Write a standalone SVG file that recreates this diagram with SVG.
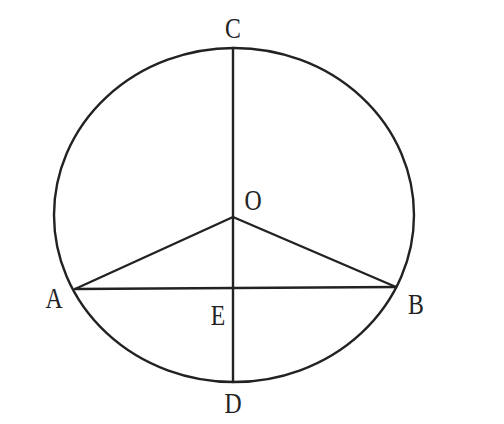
<svg xmlns="http://www.w3.org/2000/svg" width="504" height="424" viewBox="0 0 504 424">
<style>
.ln{stroke:#222;stroke-width:2.4;fill:none;stroke-linecap:round;stroke-linejoin:round}
.lb{font-family:"Liberation Serif","Times New Roman",serif;font-size:29px;fill:#222;text-anchor:middle}
</style>
<rect width="504" height="424" fill="#fff"/>
<g id="circle"><ellipse class="ln" cx="234" cy="215" rx="180" ry="167"/></g>
<g id="connectors">
<line class="ln" x1="233" y1="48" x2="233" y2="382"/>
<line class="ln" x1="75" y1="289" x2="396" y2="287"/>
<line class="ln" x1="75" y1="289" x2="233" y2="217"/>
<line class="ln" x1="233" y1="217" x2="396" y2="287"/>
</g>
<g id="C"><text class="lb" transform="translate(233,38) scale(0.82,1)">C</text></g>
<g id="O"><text class="lb" transform="translate(253,210) scale(0.82,1)">O</text></g>
<g id="A"><text class="lb" transform="translate(54,308) scale(0.82,1)">A</text></g>
<g id="B"><text class="lb" transform="translate(416,314) scale(0.82,1)">B</text></g>
<g id="E"><text class="lb" transform="translate(218,325) scale(0.82,1)">E</text></g>
<g id="D"><text class="lb" transform="translate(233,413) scale(0.82,1)">D</text></g>
</svg>
